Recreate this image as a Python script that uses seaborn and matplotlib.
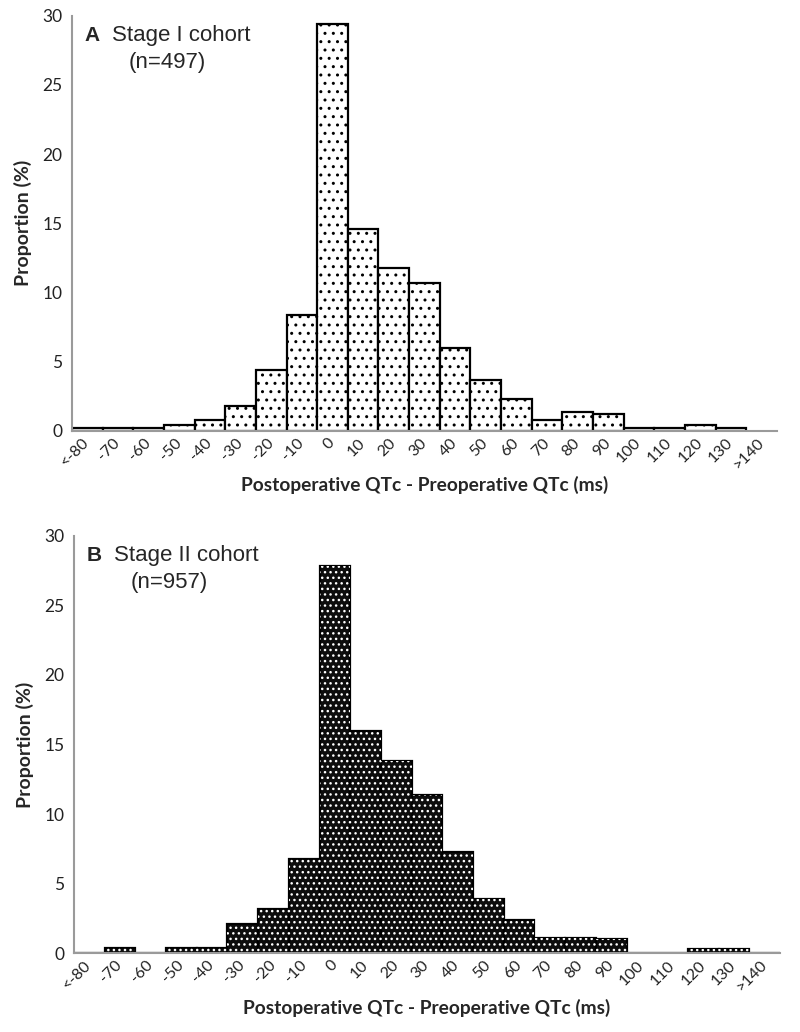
import numpy as np
import pandas as pd
import matplotlib.pyplot as plt
import seaborn as sns

# QTc change bins (ms)
bins = ["<-80", "-70", "-60", "-50", "-40", "-30", "-20", "-10", "0", "10", "20",
        "30", "40", "50", "60", "70", "80", "90", "100", "110", "120", "130", ">140"]

# proportion (%) per bin, stage I has no bar for ">140"
stage1_pct = [0.2, 0.2, 0.2, 0.4, 0.8, 1.8, 4.4, 8.4, 29.4, 14.6, 11.8,
              10.7, 6.0, 3.7, 2.3, 0.8, 1.4, 1.2, 0.2, 0.2, 0.4, 0.2]
stage2_pct = [0.0, 0.4, 0.0, 0.4, 0.4, 2.1, 3.2, 6.8, 27.8, 16.0, 13.8,
              11.4, 7.3, 3.9, 2.4, 1.1, 1.1, 1.0, 0.0, 0.0, 0.3, 0.3, 0.0]

panels = [("A", "Stage I cohort", "(n=497)", stage1_pct),
          ("B", "Stage II cohort", "(n=957)", stage2_pct)]

sns.set_style("white")
plt.rcParams["font.family"] = ["Lato", "DejaVu Sans"]
plt.rcParams["hatch.linewidth"] = 1.0

fig = plt.figure(figsize=(8, 10.32), dpi=100)
ax1 = fig.add_axes([0.09, 0.5824, 0.881, 0.4024])
ax2 = fig.add_axes([0.0925, 0.0763, 0.8825, 0.4046])

for ax, (letter, title, n_txt, vals) in zip([ax1, ax2], panels):
    df = pd.DataFrame({"bin": bins[:len(vals)], "pct": vals})
    if letter == "A":
        sns.barplot(data=df, x="bin", y="pct", order=bins, width=1, color="white",
                    saturation=1, edgecolor="black", linewidth=1.6, errorbar=None, ax=ax)
        for p in ax.patches:
            p.set_hatch("..")
    else:
        sns.barplot(data=df, x="bin", y="pct", order=bins, width=1, color="#0d0d0d",
                    saturation=1, edgecolor="black", linewidth=1.6, errorbar=None, ax=ax)
        n0 = len(ax.patches)
        sns.barplot(data=df, x="bin", y="pct", order=bins, width=1, color="#0d0d0d",
                    saturation=1, edgecolor="white", linewidth=0, errorbar=None, ax=ax)
        for p in ax.patches[n0:]:
            p.set_facecolor("none")
            p.set_hatch("...")

    ax.set_xlim(-0.5, len(bins) - 0.5)
    ax.set_ylim(0, 30)
    ax.set_yticks(range(0, 31, 5))
    sns.despine(ax=ax)
    for s in ["left", "bottom"]:
        ax.spines[s].set_color("#9a9a9a")
        ax.spines[s].set_linewidth(1.5)
    ax.tick_params(axis="y", length=5, width=1, color="#9a9a9a", labelsize=12.5,
                   labelcolor="#222222", pad=2)
    ax.tick_params(axis="x", length=0, labelsize=11.5, labelcolor="#222222", pad=7)
    plt.setp(ax.get_xticklabels(), rotation=45, ha="right", va="center",
             rotation_mode="anchor")
    ax.set_xlabel("Postoperative QTc - Preoperative QTc (ms)", fontsize=13.8,
                  fontweight="bold", labelpad=3)
    ax.set_ylabel("Proportion (%)", fontsize=14, fontweight="bold", labelpad=7)

    ax.text(0.018, 0.953, letter, transform=ax.transAxes, fontsize=15, fontweight="bold",
            family="Liberation Sans", va="center")
    ax.text(0.057, 0.953, title, transform=ax.transAxes, fontsize=16,
            family="Liberation Sans", va="center")
    ax.text(0.08, 0.888, n_txt, transform=ax.transAxes, fontsize=16,
            family="Liberation Sans", va="center")

fig.savefig("out.png", dpi=100)
